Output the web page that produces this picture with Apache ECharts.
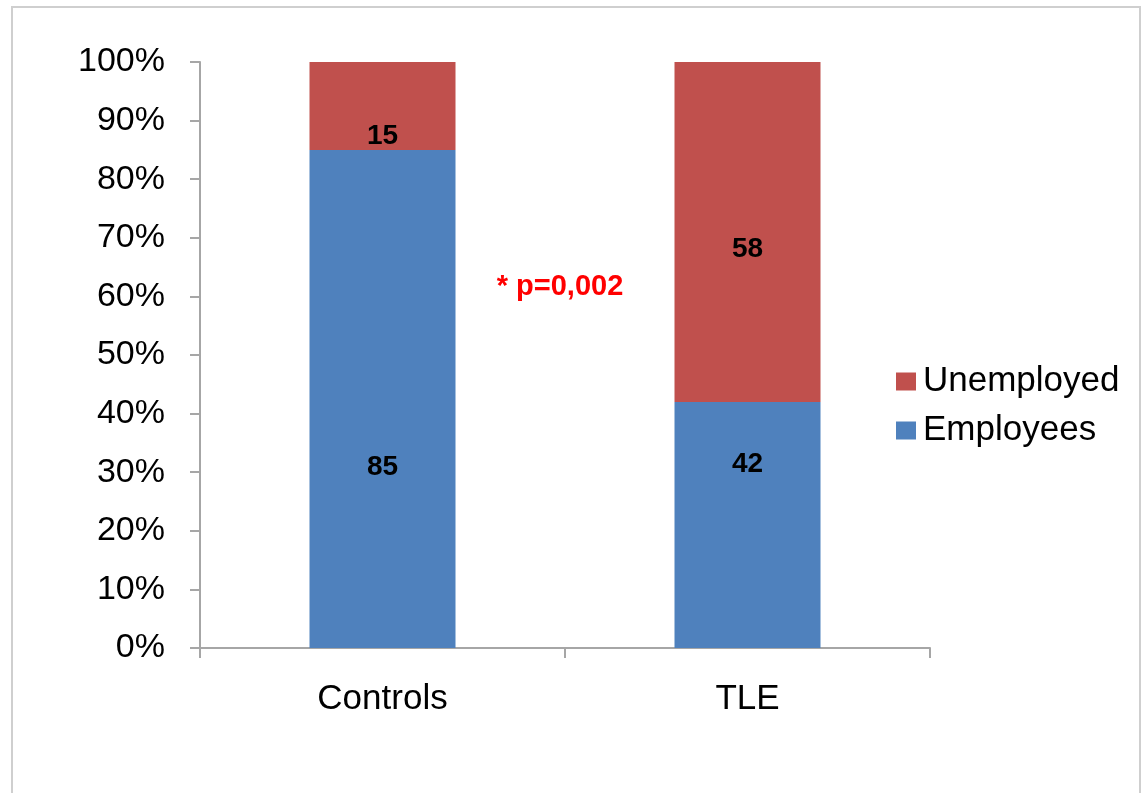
<!DOCTYPE html>
<html>
<head>
<meta charset="utf-8">
<script src="https://cdn.jsdelivr.net/npm/echarts@6/dist/echarts.min.js"></script>
<style>
html,body{margin:0;padding:0;background:#fff;}
#chart{width:1147px;height:793px;}
</style>
</head>
<body>
<div id="chart"></div>
<script>
// Employment status by group, in percent
var categories = ['Controls', 'TLE'];
var employees = [85, 42];
var unemployed = [15, 58];
// vertical nudge of each value label inside its segment
var employeesLabelShift = [68, -61];
var unemployedLabelShift = [30, 17];
var yTicks = [0, 10, 20, 30, 40, 50, 60, 70, 80, 90, 100];
var pText = '* p=0,002';

var chart = echarts.init(document.getElementById('chart'));

function withLabels(values, shifts) {
  return values.map(function (v, i) {
    return { value: v, label: { offset: [0, shifts[i]] } };
  });
}

var FONT = 'Liberation Sans, Arial, sans-serif';

var valueLabel = {
  show: true,
  position: 'inside',
  color: '#000',
  fontFamily: FONT,
  fontWeight: 'bold',
  fontSize: 28
};

chart.setOption({
  animation: false,
  backgroundColor: '#fff',
  grid: { left: 200, right: 217, top: 62, bottom: 145, containLabel: false },
  legend: {
    orient: 'vertical',
    left: 891,
    top: 359,
    itemWidth: 20,
    itemHeight: 18,
    itemGap: 14,
    icon: 'rect',
    textStyle: { fontFamily: FONT, fontSize: 35, color: '#000', padding: [0, 0, 0, 2] },
    data: ['Unemployed', 'Employees']
  },
  xAxis: {
    type: 'category',
    data: categories,
    axisLine: { lineStyle: { color: '#a6a6a6', width: 2 } },
    axisTick: { show: true, alignWithLabel: false, length: 10, lineStyle: { color: '#a6a6a6', width: 2 } },
    axisLabel: { margin: 34, fontFamily: FONT, fontSize: 35, color: '#000' }
  },
  yAxis: {
    type: 'value',
    min: 0,
    max: 100,
    interval: 10,
    axisLine: { show: true, lineStyle: { color: '#a6a6a6', width: 2 } },
    axisTick: { show: true, length: 10, lineStyle: { color: '#a6a6a6', width: 2 } },
    splitLine: { show: false },
    axisLabel: {
      margin: 35,
      fontFamily: FONT,
      fontSize: 34,
      color: '#000',
      formatter: function (v) { return yTicks.indexOf(v) >= 0 ? v + '%' : ''; }
    }
  },
  series: [
    {
      name: 'Employees',
      type: 'bar',
      stack: 'total',
      barWidth: '40%',
      itemStyle: { color: '#4F81BD' },
      label: valueLabel,
      data: withLabels(employees, employeesLabelShift)
    },
    {
      name: 'Unemployed',
      type: 'bar',
      stack: 'total',
      barWidth: '40%',
      itemStyle: { color: '#C0504D' },
      label: valueLabel,
      data: withLabels(unemployed, unemployedLabelShift)
    }
  ],
  graphic: [
    {
      type: 'rect',
      shape: { x: 12, y: 7, width: 1128, height: 800 },
      style: { fill: 'none', stroke: '#cfcfcf', lineWidth: 2 },
      z: 0
    },
    {
      type: 'text',
      x: 560,
      y: 287,
      style: {
        text: pText,
        fill: '#FF0000',
        align: 'center',
        verticalAlign: 'middle',
        font: 'bold 29px "Liberation Sans", Arial, sans-serif'
      }
    }
  ]
});
</script>
</body>
</html>
